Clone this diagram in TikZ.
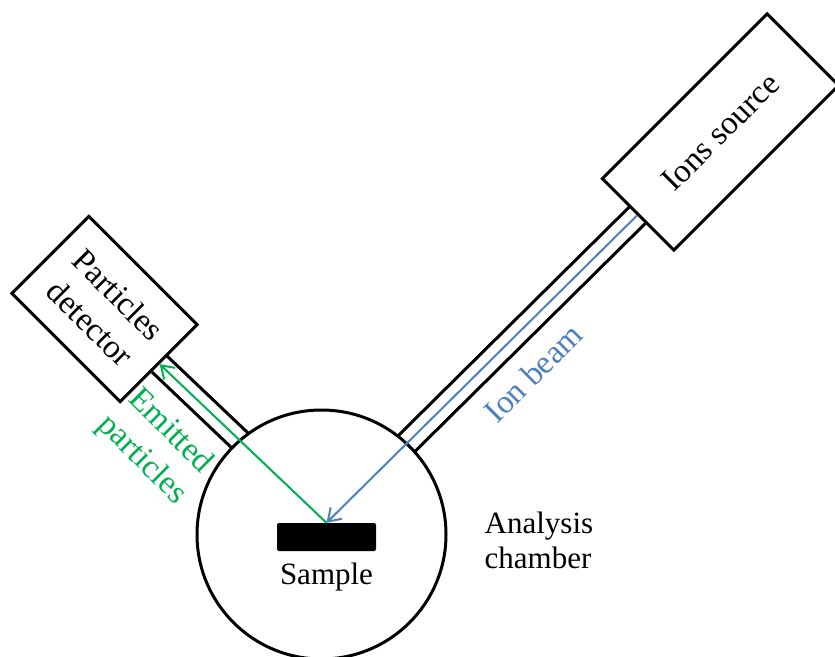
\documentclass[tikz,border=0pt]{standalone}
\usepackage{fontspec}
\setmainfont{Liberation Serif}
\usepackage{tikz}
\usetikzlibrary{positioning,arrows.meta,calc,backgrounds}
\definecolor{beamcolor}{RGB}{79,129,189}
\definecolor{emitcolor}{RGB}{0,176,80}
\tikzset{
  unit/.style={draw, line width=3pt, fill=white, minimum width=233pt, minimum height=101pt, align=center, inner sep=0pt, font=\fontsize{33}{40}\selectfont},
  chamber/.style={draw, circle, line width=3pt, fill=white, minimum size=249pt, inner sep=0pt},
  target/.style={fill=black, rounded corners=2pt, minimum width=99pt, minimum height=28pt, inner sep=0pt},
  txt/.style={font=\fontsize{31}{35}\selectfont, align=left, inner sep=0pt},
  tube/.style={line width=3pt},
  ray/.style={line width=2pt, -{Straight Barb[length=12pt,width=16pt]}},
  rlbl/.style={font=\fontsize{33}{40}\selectfont, align=center, inner sep=0pt},
}
\begin{document}
\begin{tikzpicture}[x=1pt,y=-1pt]
\useasboundingbox (0,0) rectangle (835,656);
\node[unit, rotate=45] (src) at (720.5,132) {Ions source};
\node[unit, rotate=-45, minimum width=153pt, minimum height=109pt] (det) at (104.5,309) {Particles\\detector};
\node[chamber] (ch) at (321.5,534.5) {};
\node[target] (smp) at (326.5,537) {};
\node[txt, below=12pt of smp] (smplbl) {Sample};
\node[txt, right=37pt of ch, yshift=-6pt] (chlbl) {Analysis\\chamber};
\begin{scope}[on background layer]
\draw[tube] ($(src.west)!11.5pt!90:(smp.north)$) -- ($(smp.north)!11.5pt!-90:(src.west)$);
\draw[tube] ($(src.west)!11.5pt!-90:(smp.north)$) -- ($(smp.north)!11.5pt!90:(src.west)$);
\draw[tube] ($(det.east)!11pt!90:(smp.north)$) -- ($(smp.north)!11pt!-90:(det.east)$);
\draw[tube] ($(det.east)!11pt!-90:(smp.north)$) -- ($(smp.north)!11pt!90:(det.east)$);
\end{scope}
\draw[ray, beamcolor] (src.west) -- (smp.north);
\draw[ray, emitcolor] (smp.north) -- (det.east);
\node[rlbl, rotate=45, text=beamcolor] (beamlbl) at (533,373) {Ion beam};
\node[rlbl, rotate=-45, text=emitcolor] (emitlbl) at (156,446) {Emitted\\particles};
\end{tikzpicture}
\end{document}
